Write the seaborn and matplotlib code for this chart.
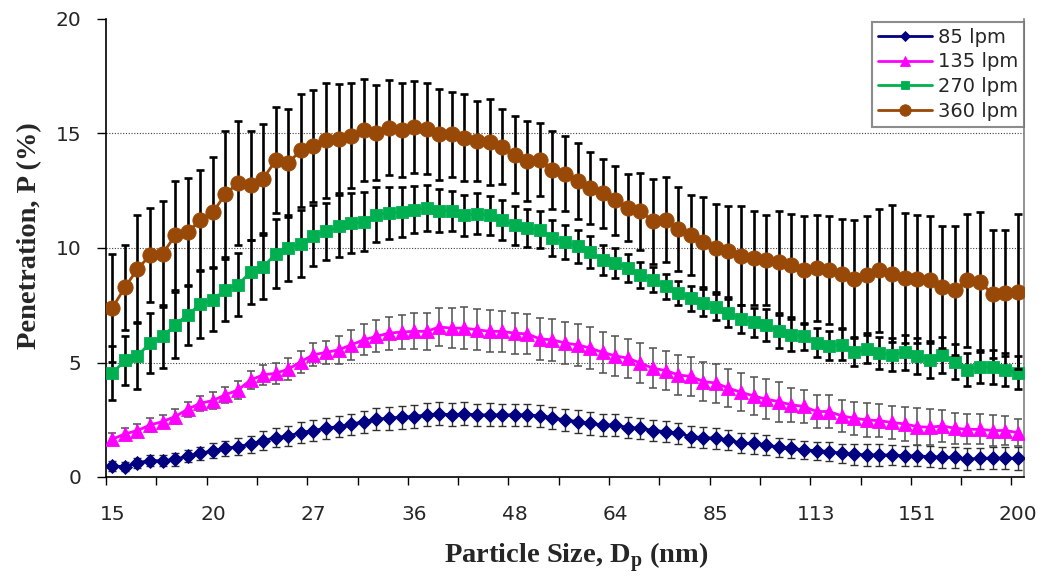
import numpy as np
import pandas as pd
import matplotlib
matplotlib.use("Agg")
import matplotlib.pyplot as plt
import seaborn as sns

# ---- data ----
tick_labels = ['15', '20', '27', '36', '48', '64', '85', '113', '151', '200']
series_names = ['85 lpm', '135 lpm', '270 lpm', '360 lpm']

p85 = [0.48, 0.45, 0.63, 0.71, 0.71, 0.77, 0.92, 1.03, 1.15, 1.25, 1.33, 1.43, 1.59, 1.72, 1.79, 1.94, 2.03, 2.13,
       2.20, 2.30, 2.42, 2.52, 2.57, 2.61, 2.64, 2.71, 2.76, 2.71, 2.76, 2.71, 2.71, 2.71, 2.71, 2.71, 2.67, 2.59, 2.49,
       2.42, 2.35, 2.27, 2.27, 2.16, 2.13, 2.03, 1.98, 1.91, 1.76, 1.72, 1.69, 1.62, 1.47, 1.47, 1.40, 1.30, 1.25,
       1.18, 1.15, 1.11, 1.03, 0.99, 0.96, 0.96, 0.96, 0.92, 0.92, 0.89, 0.86, 0.86, 0.77, 0.82, 0.82, 0.82, 0.82]
e85 = [0.20, 0.20, 0.22, 0.24, 0.25, 0.27, 0.28, 0.30, 0.32, 0.34, 0.36, 0.38, 0.40, 0.41, 0.42, 0.44, 0.46, 0.46,
       0.45, 0.47, 0.48, 0.48, 0.50, 0.50, 0.49, 0.50, 0.51, 0.50, 0.50, 0.49, 0.50, 0.48, 0.49, 0.48, 0.47, 0.48, 0.50,
       0.52, 0.50, 0.48, 0.49, 0.47, 0.46, 0.47, 0.45, 0.46, 0.47, 0.46, 0.47, 0.45, 0.44, 0.45, 0.44, 0.42, 0.41,
       0.41, 0.40, 0.42, 0.41, 0.45, 0.48, 0.46, 0.44, 0.45, 0.46, 0.45, 0.47, 0.46, 0.48, 0.46, 0.47, 0.48, 0.50]

p135 = [1.65, 1.88, 2.03, 2.27, 2.42, 2.64, 2.96, 3.22, 3.34, 3.59, 3.80, 4.24, 4.46, 4.53, 4.71, 5.04, 5.34, 5.44,
        5.55, 5.77, 5.99, 6.14, 6.28, 6.33, 6.36, 6.36, 6.55, 6.50, 6.50, 6.43, 6.36, 6.36, 6.28, 6.25, 6.03, 5.99, 5.85,
        5.77, 5.63, 5.44, 5.29, 5.19, 4.97, 4.75, 4.65, 4.46, 4.39, 4.17, 4.10, 3.88, 3.70, 3.54, 3.40, 3.29, 3.15,
        3.08, 2.86, 2.86, 2.67, 2.57, 2.49, 2.46, 2.38, 2.32, 2.20, 2.17, 2.23, 2.13, 2.08, 2.08, 2.03, 2.03, 1.94]
e135 = [0.25, 0.27, 0.28, 0.30, 0.30, 0.32, 0.33, 0.33, 0.35, 0.36, 0.38, 0.40, 0.44, 0.45, 0.47, 0.48, 0.50, 0.52,
        0.60, 0.65, 0.68, 0.70, 0.72, 0.75, 0.78, 0.80, 0.85, 0.88, 0.92, 0.90, 0.92, 0.88, 0.90, 0.88, 0.90, 0.92, 0.90,
        0.92, 0.90, 0.88, 0.86, 0.85, 0.87, 0.88, 0.85, 0.88, 0.84, 0.86, 0.85, 0.84, 0.83, 0.84, 0.86, 0.88, 0.75,
        0.72, 0.74, 0.72, 0.70, 0.72, 0.73, 0.72, 0.74, 0.75, 0.80, 0.78, 0.70, 0.68, 0.66, 0.65, 0.68, 0.62, 0.60]

p270 = [4.53, 5.09, 5.29, 5.85, 6.14, 6.65, 7.08, 7.55, 7.74, 8.18, 8.40, 8.95, 9.17, 9.75, 10.00, 10.19, 10.54, 10.73,
        10.95, 11.09, 11.14, 11.46, 11.53, 11.56, 11.68, 11.75, 11.63, 11.63, 11.43, 11.50, 11.43, 11.21, 10.99, 10.88, 10.80, 10.44, 10.25,
        10.07, 9.81, 9.49, 9.34, 9.13, 8.83, 8.62, 8.32, 8.03, 7.81, 7.62, 7.42, 7.16, 6.90, 6.75, 6.65, 6.36, 6.21,
        6.14, 5.87, 5.74, 5.77, 5.48, 5.58, 5.41, 5.34, 5.44, 5.29, 5.12, 5.34, 5.04, 4.68, 4.82, 4.80, 4.68, 4.56]
e270 = [1.18, 1.06, 1.46, 1.32, 1.37, 1.45, 1.31, 1.47, 1.37, 1.36, 1.39, 1.40, 1.39, 1.50, 1.46, 1.46, 1.34, 1.25,
        1.35, 1.30, 1.29, 1.20, 1.15, 1.10, 1.04, 1.00, 0.95, 0.88, 0.90, 0.88, 0.85, 0.88, 0.85, 0.82, 0.80, 0.80, 0.75,
        0.72, 0.70, 0.66, 0.65, 0.62, 0.58, 0.56, 0.55, 0.52, 0.55, 0.58, 0.58, 0.60, 0.62, 0.65, 0.70, 0.72, 0.70,
        0.60, 0.62, 0.65, 0.68, 0.62, 0.60, 0.70, 0.72, 0.75, 0.78, 0.80, 0.78, 0.75, 0.72, 0.72, 0.75, 0.72, 0.72]

p360 = [7.38, 8.28, 9.08, 9.68, 9.74, 10.55, 10.70, 11.21, 11.56, 12.36, 12.84, 12.73, 13.03, 13.83, 13.72, 14.27, 14.45, 14.71,
        14.77, 14.91, 15.15, 15.03, 15.25, 15.17, 15.28, 15.20, 14.96, 14.96, 14.81, 14.66, 14.62, 14.42, 14.08, 13.79, 13.86, 13.40, 13.25,
        12.92, 12.62, 12.38, 12.08, 11.75, 11.60, 11.17, 11.24, 10.83, 10.58, 10.25, 10.00, 9.85, 9.66, 9.56, 9.46, 9.37, 9.25,
        9.02, 9.13, 9.02, 8.88, 8.64, 8.83, 9.02, 8.88, 8.69, 8.64, 8.62, 8.29, 8.15, 8.59, 8.51, 7.99, 8.03, 8.10]
e360 = [2.37, 1.85, 2.36, 2.05, 2.30, 2.38, 2.35, 2.20, 2.41, 2.75, 2.70, 2.40, 2.39, 2.32, 2.35, 2.46, 2.43, 2.51,
        2.37, 2.28, 2.24, 2.07, 2.08, 2.05, 2.00, 1.99, 2.00, 1.85, 1.90, 1.75, 1.87, 1.63, 1.68, 1.75, 1.60, 1.70, 1.62,
        1.67, 1.56, 1.51, 1.52, 1.46, 1.68, 1.85, 1.86, 1.84, 1.75, 1.97, 1.94, 2.00, 2.16, 2.04, 1.97, 2.23, 2.25,
        2.36, 2.33, 2.36, 2.39, 2.57, 2.55, 2.68, 2.99, 2.84, 2.79, 2.76, 2.66, 2.83, 2.91, 3.05, 2.81, 2.74, 3.39]

values = [p85, p135, p270, p360]
errors = [e85, e135, e270, e360]

# ---- style ----
colors = ['#000080', '#FF00FF', '#00B050', '#984807']
markers = ['D', '^', 's', 'o']
msizes = [7.0, 9.5, 8.5, 11.0]
err_colors = ['#303030', '#505050', '#000000', '#000000']
err_lw = [1.0, 1.1, 1.9, 1.9]

sns.set_theme(style='white')
plt.rcParams['font.family'] = ['DejaVu Sans']
plt.rcParams['mathtext.fontset'] = 'custom'
plt.rcParams['mathtext.rm'] = 'Liberation Serif:bold'

n = len(p85)
idx = np.arange(n)
frames = []
for name, v, e in zip(series_names, values, errors):
    frames.append(pd.DataFrame({'idx': idx, 'P': v, 'err': e, 'flow': name}))
df = pd.concat(frames, ignore_index=True)

fig = plt.figure(figsize=(10.44, 5.78), dpi=100)
ax = fig.add_axes([106 / 1044, 1 - 477 / 578, 918 / 1044, 458 / 578])

handles = []
for k, name in enumerate(series_names):
    d = df[df['flow'] == name]
    ax.errorbar(d['idx'], d['P'], yerr=d['err'], fmt='none', ecolor=err_colors[k],
                elinewidth=err_lw[k], capsize=3, capthick=err_lw[k], zorder=3 + 2 * k)
    sns.lineplot(data=d, x='idx', y='P', ax=ax, color=colors[k], marker=markers[k],
                 markersize=msizes[k], markeredgecolor=colors[k], markeredgewidth=0.6,
                 linewidth=2.0, sort=False, errorbar=None, label=name, legend=False)
    line = ax.lines[-1]
    line.set_zorder(4 + 2 * k)
    handles.append(line)

ax.set_xlim(-0.5, n - 0.5)
ax.set_ylim(0, 20)
ax.set_yticks([0, 5, 10, 15, 20])
ax.set_yticklabels(['0', '5', '10', '15', '20'])
ax.set_xticks(np.arange(0, n, 8))
ax.set_xticklabels(tick_labels)
ax.set_xticks(np.arange(-0.5, n - 0.5, 4), minor=True)

ax.tick_params(axis='y', which='major', direction='out', length=6.5, width=1.0,
               labelsize=14.5, pad=11, color='black', left=True)
ax.tick_params(axis='x', which='major', length=0, labelsize=14.5, pad=20)
ax.tick_params(axis='x', which='minor', direction='out', length=6, width=1.0,
               color='black', bottom=True)

for yv in [5, 10, 15]:
    ax.axhline(yv, color='#404040', lw=0.8, ls=(0, (1, 1.5)), zorder=1)

for s in ['left', 'bottom']:
    ax.spines[s].set_color('black')
    ax.spines[s].set_linewidth(1.2)
ax.spines['right'].set_color('#808080')
ax.spines['right'].set_linewidth(1.2)
ax.spines['top'].set_visible(False)
ax.grid(False)

ax.set_ylabel('Penetration, P (%)', fontfamily='Liberation Serif', fontweight='bold',
              fontsize=20.5)
ax.set_xlabel(r'Particle Size, D$_\mathrm{p}$ (nm)', fontfamily='Liberation Serif',
              fontweight='bold', fontsize=20.5)
ax.yaxis.set_label_coords(-0.07, 0.526)
ax.xaxis.set_label_coords(0.512, -0.138)

leg = ax.legend(handles=handles, labels=series_names, loc='upper right',
                bbox_to_anchor=(1.0, 0.994), borderaxespad=0, fontsize=14,
                frameon=True, fancybox=False, handlelength=2.8, handletextpad=0.3,
                labelspacing=0.3, borderpad=0.3, markerscale=0.75)
leg.get_frame().set_edgecolor('#707070')
leg.get_frame().set_linewidth(1.5)
leg.set_zorder(20)

fig.savefig('out.png', dpi=100)
